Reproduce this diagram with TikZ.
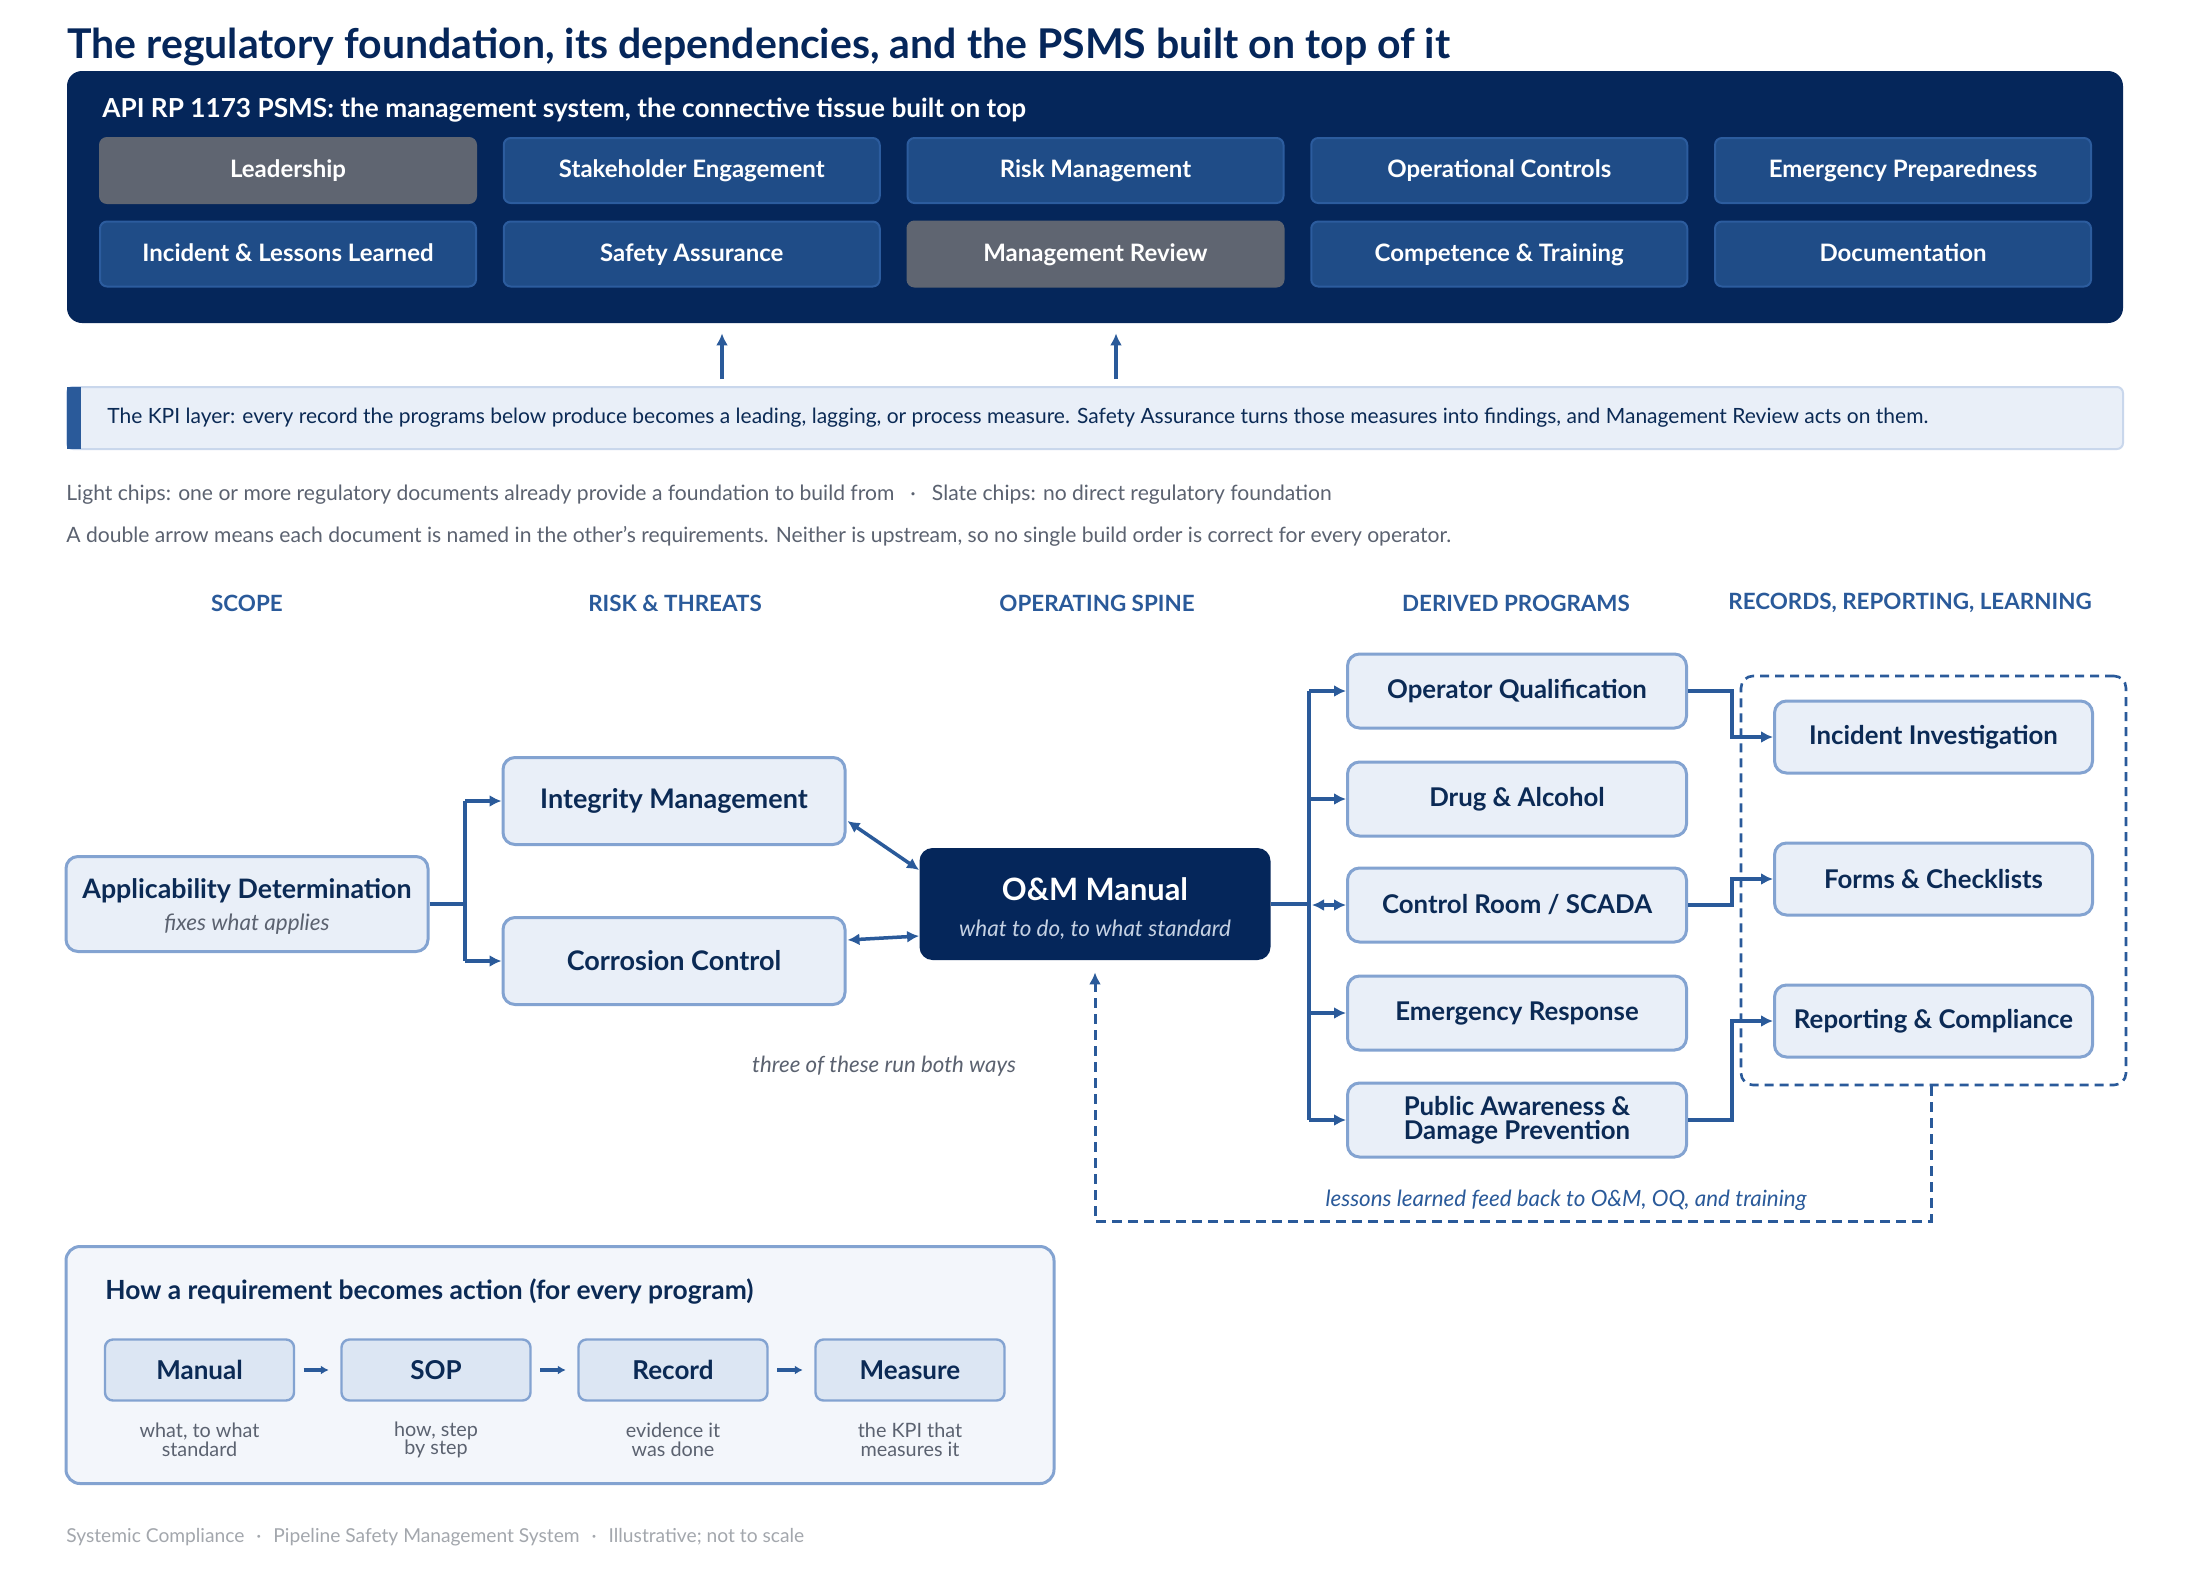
\documentclass[tikz,border=0pt]{standalone}
\usepackage{fontspec}
\setmainfont{Lato}
\usetikzlibrary{arrows.meta,calc}
\definecolor{navy}{HTML}{05265A}
\definecolor{chipblue}{HTML}{1F4C87}
\definecolor{chipborder}{HTML}{2C5C9E}
\definecolor{slate}{HTML}{5F6571}
\definecolor{accent}{HTML}{2A5A9A}
\definecolor{lfill}{HTML}{E9EFF8}
\definecolor{lborder}{HTML}{83A3D1}
\definecolor{kpiborder}{HTML}{C9D7EC}
\definecolor{tnavy}{HTML}{0B2A55}
\definecolor{graytext}{HTML}{5B6270}
\definecolor{footgray}{HTML}{A3A7AD}
\definecolor{stepfill}{HTML}{DCE6F3}
\definecolor{howfill}{HTML}{F3F6FB}
\definecolor{omsub}{HTML}{C5D1E3}
\tikzset{
  chip/.style={draw=chipborder, fill=chipblue, line width=1pt, rounded corners=3.5pt,
    minimum width=188pt, minimum height=32.5pt, inner sep=0pt, text=white,
    text height=10pt, text depth=2.6pt,
    font=\fontsize{12}{14}\selectfont\bfseries},
  slatechip/.style={chip, fill=slate, draw=slate},
  lnode/.style={draw=lborder, fill=lfill, line width=1.5pt, rounded corners=6pt,
    inner sep=0pt, text=tnavy, align=center,
    font=\fontsize{12.9}{12}\selectfont\bfseries},
  bignode/.style={lnode, font=\fontsize{13.5}{14}\selectfont\bfseries},
  prog/.style={lnode, minimum width=169.5pt, minimum height=37pt},
  rec/.style={lnode, minimum width=159pt, minimum height=36pt},
  colhead/.style={text=accent, font=\fontsize{11.2}{13}\selectfont\bfseries},
  conn/.style={draw=accent, line width=1.75pt},
  arr/.style={conn, -{Latex[length=6pt,width=6pt]}},
  darr/.style={conn, {Latex[length=6pt,width=6pt]}-{Latex[length=6pt,width=6pt]}},
  stepbox/.style={draw=lborder, fill=stepfill, line width=1.2pt, rounded corners=4pt,
    minimum width=94.5pt, minimum height=30.5pt, inner sep=0pt, text=tnavy,
    font=\fontsize{13}{14}\selectfont\bfseries},
  sarr/.style={draw=accent, line width=1.6pt, -{Latex[length=4pt,width=4.5pt]},
    shorten <=4.25pt, shorten >=5.75pt},
  caption/.style={text=graytext, align=center, font=\fontsize{9.9}{9.3}\selectfont},
}
\begin{document}
\begin{tikzpicture}[x=0.5pt,y=-0.5pt]
\useasboundingbox (0,0) rectangle (2190,1575);
\fill[white] (0,0) rectangle (2190,1575);

% title
\node[anchor=base west, inner sep=0pt, text=navy, font=\fontsize{20.5}{23}\selectfont\bfseries] (title) at (67,58)
  {The regulatory foundation, its dependencies, and the PSMS built on top of it};

% top panel
\node[fill=navy, rounded corners=7.5pt, minimum width=1028pt, minimum height=126pt, inner sep=0pt] (panel) at (1095,197) {};
\node[anchor=base west, inner sep=0pt, text=white, font=\fontsize{13.1}{15}\selectfont\bfseries] (ptitle) at (102,117)
  {API RP 1173 PSMS: the management system, the connective tissue built on top};

\node[slatechip] (c1) at (288,170.5) {Leadership};
\node[chip] (c2) at (691.75,170.5) {Stakeholder Engagement};
\node[chip] (c3) at (1095.5,170.5) {Risk Management};
\node[chip] (c4) at (1499.25,170.5) {Operational Controls};
\node[chip] (c5) at (1903,170.5) {Emergency Preparedness};
\node[chip] (c6) at (288,254) {Incident \& Lessons Learned};
\node[chip] (c7) at (691.75,254) {Safety Assurance};
\node[slatechip] (c8) at (1095.5,254) {Management Review};
\node[chip] (c9) at (1499.25,254) {Competence \& Training};
\node[chip] (c10) at (1903,254) {Documentation};

% KPI bar
\node[draw=kpiborder, fill=lfill, line width=1pt, rounded corners=3pt, minimum width=1028pt, minimum height=31pt, inner sep=0pt] (kpi) at (1095,418) {};
\fill[accent] (67,387) rectangle (81,449);
\node[anchor=west, inner sep=0pt, text=tnavy, font=\fontsize{10.5}{12}\selectfont] (kpitext) at (107,418)
  {The KPI layer: every record the programs below produce becomes a leading, lagging, or process measure. Safety Assurance turns those measures into findings, and Management Review acts on them.};

\coordinate (u1) at (722,0);
\coordinate (u2) at (1116,0);
\draw[arr, shorten <=3.5pt, shorten >=5pt] (kpi.north -| u1) -- (panel.south -| u1);
\draw[arr, shorten <=3.5pt, shorten >=5pt] (kpi.north -| u2) -- (panel.south -| u2);

% legend
\node[anchor=west, inner sep=0pt, text=graytext, font=\fontsize{10.55}{12}\selectfont] (leg1) at (66,495)
  {Light chips: one or more regulatory documents already provide a foundation to build from\hspace{8pt}·\hspace{8pt}Slate chips: no direct regulatory foundation};
\node[anchor=west, inner sep=0pt, text=graytext, font=\fontsize{10.55}{12}\selectfont] (leg2) at (66,536)
  {A double arrow means each document is named in the other's requirements. Neither is upstream, so no single build order is correct for every operator.};

% column headers
\node[colhead] (h1) at (247,603) {SCOPE};
\node[colhead] (h2) at (675,603) {RISK \& THREATS};
\node[colhead] (h3) at (1097,603) {OPERATING SPINE};
\node[colhead] (h4) at (1516,603) {DERIVED PROGRAMS};
\node[colhead] (h5) at (1910,603) {RECORDS, REPORTING, LEARNING};

% scope
\node[lnode, minimum width=181pt, minimum height=47.5pt] (ad) at (247,904) {};
\node[inner sep=0pt, text=tnavy, font=\fontsize{13.4}{14}\selectfont\bfseries] (adt) at ($(ad.center)+(0,-13)$) {Applicability Determination};
\node[inner sep=0pt, text=graytext, font=\fontsize{11.25}{12}\selectfont\itshape] (ads) at ($(ad.center)+(0,20)$) {fixes what applies};

% risk
\node[bignode, minimum width=171pt, minimum height=43.5pt] (im) at (674,801) {Integrity Management};
\node[bignode, minimum width=171pt, minimum height=43.5pt] (cc) at (674,961) {Corrosion Control};

% O&M
\node[fill=navy, rounded corners=6.5pt, minimum width=175.5pt, minimum height=56pt, inner sep=0pt] (om) at (1095,904) {};
\node[inner sep=0pt, text=white, font=\fontsize{15.4}{17}\selectfont\bfseries] (omt) at ($(om.center)+(0,-15)$) {O\&M Manual};
\node[inner sep=0pt, text=omsub, font=\fontsize{11.25}{12}\selectfont\itshape] (oms) at ($(om.center)+(0,26)$) {what to do, to what standard};

% programs
\node[prog] (oq) at (1517,691) {Operator Qualification};
\node[prog] (da) at (1517,799) {Drug \& Alcohol};
\node[prog] (cr) at (1517,905) {Control Room / SCADA};
\node[prog] (er) at (1517,1013) {Emergency Response};
\node[prog] (pa) at (1517,1120) {Public Awareness \&\\Damage Prevention};

% records
\node[draw=accent, line width=1.3pt, dash pattern=on 4.5pt off 3pt, rounded corners=6pt, minimum width=192.5pt, minimum height=204.5pt, inner sep=0pt] (grp) at (1933.5,880.5) {};
\node[rec] (ii) at (1933.5,737) {Incident Investigation};
\node[rec] (fc) at (1933.5,879) {Forms \& Checklists};
\node[rec] (rc) at (1933.5,1021) {Reporting \& Compliance};

% connectors scope -> risk
\coordinate (br) at (465,904);
\draw[conn] (ad.east) -- (br);
\draw[arr] (br |- im.west) -- (im.west);
\draw[arr] (br |- cc.west) -- (cc.west);
\draw[conn] (br |- im.west) -- (br |- cc.west);

% risk <-> O&M
\draw[darr] ($(im.east)+(1,20)$) -- ($(om.west)+(0,-34)$);
\draw[darr] ($(cc.east)+(1,-21)$) -- ($(om.west)+(0,32)$);

% O&M -> programs
\coordinate (bus) at (1309,905);
\draw[conn] (om.east) -- (om.east -| bus);
\draw[conn] (bus |- oq.west) -- (bus |- pa.west);
\draw[arr] (bus |- oq.west) -- (oq.west);
\draw[arr] (bus |- da.west) -- (da.west);
\draw[darr] ($(bus |- cr.west)+(3,0)$) -- (cr.west);
\draw[arr] (bus |- er.west) -- (er.west);
\draw[arr] (bus |- pa.west) -- (pa.west);

% programs -> records
\draw[arr] (oq.east) -- ++(44,0) |- (ii.west);
\draw[arr] (cr.east) -- ++(44,0) |- (fc.west);
\draw[arr] (pa.east) -- ++(44,0) |- (rc.west);

% feedback loop
\coordinate (fb1) at (1931,1221);
\coordinate (fb2) at (1095,1221);
\draw[arr, line width=1.5pt, dash pattern=on 5pt off 3pt, shorten >=6pt] (grp.south -| fb1) -- (fb1) -- (fb2) -- (om.south -| fb2);
\node[text=accent, font=\fontsize{11.2}{12}\selectfont\itshape] (fbl) at (1566,1200) {lessons learned feed back to O\&M, OQ, and training};
\node[text=graytext, font=\fontsize{11.15}{12}\selectfont\itshape] (both) at (884,1066) {three of these run both ways};

% how box
\node[draw=lborder, fill=howfill, line width=1.5pt, rounded corners=7pt, minimum width=494pt, minimum height=118.5pt, inner sep=0pt] (how) at (560,1365) {};
\node[anchor=west, inner sep=0pt, text=tnavy, font=\fontsize{13.2}{15}\selectfont\bfseries] (howt) at (105,1292)
  {How a requirement becomes action (for every program)};
\node[stepbox] (s1) at (199.5,1370) {Manual};
\node[stepbox] (s2) at (436,1370) {SOP};
\node[stepbox] (s3) at (673,1370) {Record};
\node[stepbox] (s4) at (910,1370) {Measure};
\draw[sarr] (s1.east) -- (s2.west);
\draw[sarr] (s2.east) -- (s3.west);
\draw[sarr] (s3.east) -- (s4.west);
\node[caption] (k1) at (199.5,1440) {what, to what\\standard};
\node[caption] (k2) at (436,1440) {how, step\\by step};
\node[caption] (k3) at (673,1440) {evidence it\\was done};
\node[caption] (k4) at (910,1440) {the KPI that\\measures it};

% footer
\node[anchor=west, inner sep=0pt, text=footgray, font=\fontsize{9.6}{11}\selectfont] (foot) at (66,1537)
  {Systemic Compliance\hspace{6pt}·\hspace{6pt}Pipeline Safety Management System\hspace{6pt}·\hspace{6pt}Illustrative; not to scale};
\end{tikzpicture}
\end{document}
